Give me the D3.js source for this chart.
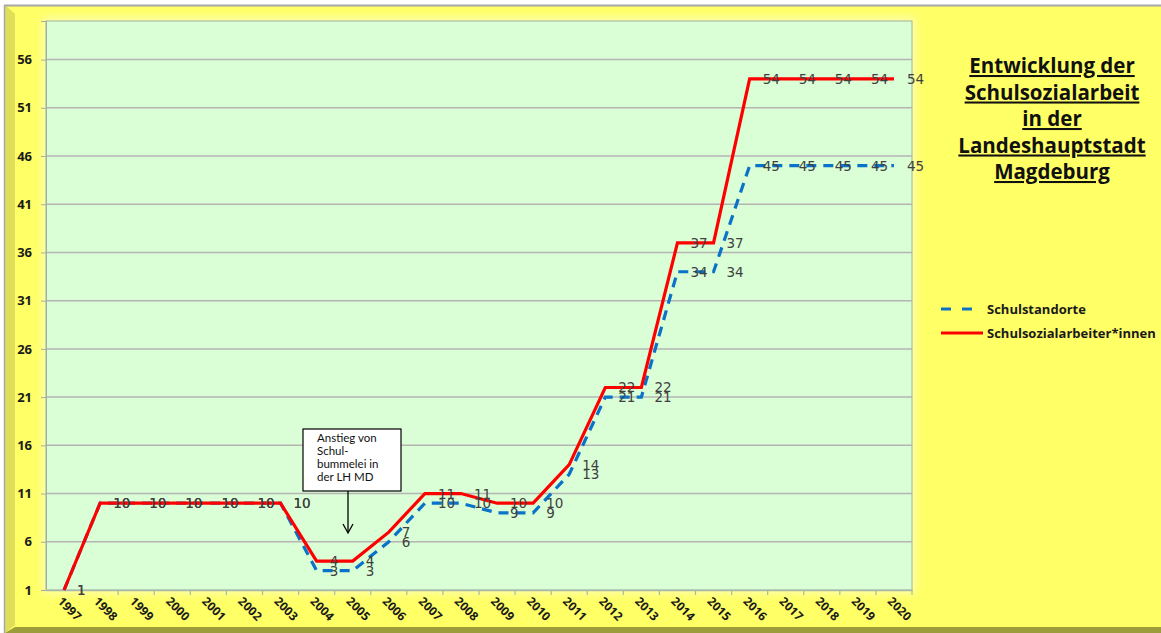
<!DOCTYPE html>
<html><head><meta charset="utf-8">
<script src="https://cdn.jsdelivr.net/npm/d3@7"></script>
<style>html,body{margin:0;padding:0;background:#fff;overflow:hidden}</style>
</head><body>
<svg id="c" width="1161" height="633"></svg>
<script>
const years = ["1997","1998","1999","2000","2001","2002","2003","2004","2005","2006","2007","2008","2009","2010","2011","2012","2013","2014","2015","2016","2017","2018","2019","2020"];
const schulstandorte = [1,10,10,10,10,10,10,3,3,6,10,10,9,9,13,21,21,34,34,45,45,45,45,45];
const sozialarbeiter = [1,10,10,10,10,10,10,4,4,7,11,11,10,10,14,22,22,37,37,54,54,54,54,54];
const yTicks = [1,6,11,16,21,26,31,36,41,46,51,56];
const titleLines = ["Entwicklung der","Schulsozialarbeit","in der","Landeshauptstadt","Magdeburg"];
const noteLines = ["Anstieg von","Schul-","bummelei in","der LH MD"];
const seriesNames = ["Schulstandorte","Schulsozialarbeiter*innen"];

const svg = d3.select("#c");
const W=1161,H=633;
const P={l:46,r:912,t:21,b:590};
const FONT = "'Open Sans', 'Liberation Sans', sans-serif";

const defs = svg.append("defs");
const f = defs.append("filter").attr("id","glow").attr("x","-10%").attr("y","-10%").attr("width","120%").attr("height","120%");
f.append("feGaussianBlur").attr("stdDeviation",5);

svg.append("rect").attr("x",0).attr("y",0).attr("width",W).attr("height",H).attr("fill","#ffffff");
svg.append("rect").attr("x",4).attr("y",5).attr("width",W-4).attr("height",H-5).attr("fill","#FFFF66");
svg.append("path").attr("d",`M5,5 L15,14 L15,625 L5,633 Z`).attr("fill","#DEDE58");
svg.append("path").attr("d",`M5,633 L15,627 L${W},627 L${W},633 Z`).attr("fill","#9C9C3A");
svg.append("line").attr("x1",4).attr("x2",W).attr("y1",5.5).attr("y2",5.5).attr("stroke","#A8A8A8").attr("stroke-width",2);
svg.append("line").attr("x1",4.5).attr("x2",4.5).attr("y1",5).attr("y2",H).attr("stroke","#A8A8A8").attr("stroke-width",1.5);

svg.append("rect").attr("x",P.l-3).attr("y",P.t-3).attr("width",P.r-P.l+6).attr("height",P.b-P.t+6)
  .attr("fill","#FFFFB8").attr("filter","url(#glow)");
svg.append("rect").attr("x",P.l).attr("y",P.t).attr("width",P.r-P.l).attr("height",P.b-P.t)
  .attr("fill","#DAFFD6").attr("stroke","#A0B0A0").attr("stroke-width",1);

const x = d3.scaleBand().domain(years).range([P.l,P.r]).padding(0);
const cx = d => x(d)+x.bandwidth()/2;
const y = d3.scaleLinear().domain([1,60]).range([P.b,P.t]);

svg.append("g").selectAll("line").data(yTicks.filter(v=>v>1)).join("line")
  .attr("x1",P.l).attr("x2",P.r).attr("y1",d=>y(d)).attr("y2",d=>y(d))
  .attr("stroke","#B4B4B4").attr("stroke-width",1.5);

const yAxis = d3.axisLeft(y).tickValues(yTicks).tickSize(5).tickPadding(9).tickFormat(d3.format("d"));
const gy = svg.append("g").attr("transform",`translate(${P.l},0)`).call(yAxis);
gy.select(".domain").attr("stroke","#A0B0A0");
gy.selectAll(".tick line").attr("stroke","#A0B0A0");
gy.selectAll("text").attr("font-family",FONT).attr("font-weight","bold")
  .attr("font-size",13).attr("fill","#1a1a1a");

const xAxis = d3.axisBottom(x).tickSize(0).tickFormat(d=>d);
const gx = svg.append("g").attr("transform",`translate(0,${P.b})`).call(xAxis);
gx.select(".domain").attr("stroke","#A8B8A8").attr("stroke-width",1.5);
gx.selectAll(".tick text")
  .attr("font-family",FONT).attr("font-weight","bold")
  .attr("font-size",12).attr("fill","#1a1a1a")
  .attr("text-anchor","start").attr("dy",0)
  .attr("transform","translate(-5,10) rotate(45)");
svg.append("g").selectAll("line").data(years.slice(1).concat(["end"])).join("line")
  .attr("x1",d=>d==="end"?P.r:x(d)).attr("x2",d=>d==="end"?P.r:x(d))
  .attr("y1",P.b).attr("y2",P.b+5).attr("stroke","#A8B8A8").attr("stroke-width",1.2);

const line = d3.line().x((d,i)=>cx(years[i])).y(d=>y(d));
svg.append("path").datum(schulstandorte).attr("d",line).attr("fill","none")
  .attr("stroke","#0A72C8").attr("stroke-width",3.2).attr("stroke-dasharray","10,7");
svg.append("path").datum(sozialarbeiter).attr("d",line).attr("fill","none")
  .attr("stroke","#FF0000").attr("stroke-width",3.2).attr("stroke-linejoin","miter");

function labels(data){
  svg.append("g").selectAll("text").data(data).join("text")
    .attr("x",(d,i)=>cx(years[i])+13).attr("y",d=>y(d))
    .attr("dominant-baseline","central")
    .attr("font-family","'DejaVu Sans', sans-serif").attr("font-size",13.5)
    .attr("fill","#404040").text(d=>d);
}
labels(sozialarbeiter);
labels(schulstandorte);

const bx=303,by=429,bw=98,bh=62;
svg.append("rect").attr("x",bx).attr("y",by).attr("width",bw).attr("height",bh)
  .attr("fill","#fff").attr("stroke","#000").attr("stroke-width",1.2);
svg.append("g").selectAll("text").data(noteLines).join("text")
  .attr("x",bx+14).attr("y",(d,i)=>by+13+i*13)
  .attr("font-family","Lato, 'Liberation Sans', sans-serif").attr("font-size",11.5).attr("fill","#111")
  .text(d=>d);
const ax = 348;
svg.append("line").attr("x1",ax).attr("x2",ax).attr("y1",by+bh).attr("y2",532).attr("stroke","#000").attr("stroke-width",1.3);
svg.append("path").attr("d",`M${ax-5},${524} L${ax},${533} L${ax+5},${524}`).attr("fill","none").attr("stroke","#000").attr("stroke-width",1.3);

const tg = svg.append("g");
titleLines.forEach((t,i)=>{
  tg.append("text").attr("x",1052).attr("y",73+i*26.5).attr("text-anchor","middle")
    .attr("font-family",FONT).attr("font-weight","bold")
    .attr("font-size",20.5).attr("fill","#111").attr("text-decoration","underline").text(t);
});

const lg = svg.append("g");
lg.append("line").attr("x1",941).attr("x2",981).attr("y1",309).attr("y2",309)
  .attr("stroke","#0A72C8").attr("stroke-width",3).attr("stroke-dasharray","10,11");
lg.append("line").attr("x1",941).attr("x2",983).attr("y1",333).attr("y2",333)
  .attr("stroke","#FF0000").attr("stroke-width",3);
lg.selectAll("text").data(seriesNames).join("text")
  .attr("x",987).attr("y",(d,i)=>309+i*24).attr("dominant-baseline","central")
  .attr("font-family",FONT).attr("font-weight","bold")
  .attr("font-size",13).attr("fill","#1a1a1a").text(d=>d);
</script>
</body></html>
